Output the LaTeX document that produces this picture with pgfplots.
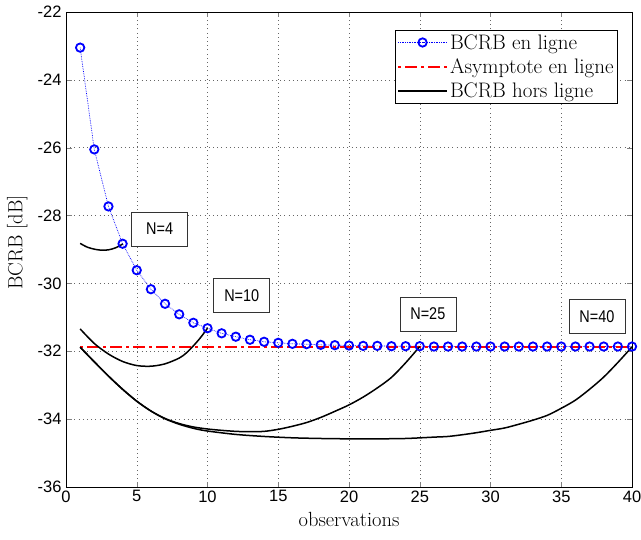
\documentclass[border=0pt]{standalone}
\usepackage{fontspec}
\usepackage{graphicx}
\usepackage{pgfplots}
\pgfplotsset{compat=1.18}
\newfontfamily\arialf{Liberation Sans}
\begin{document}
\begin{tikzpicture}
\begin{axis}[
  scale only axis,
  width=566pt, height=475pt,
  xmin=0, xmax=40, ymin=-36, ymax=-22,
  xtick={0,5,...,40}, ytick={-36,-34,...,-22},
  tick align=inside,
  major tick length=5.5pt,
  grid=major,
  major grid style={gray!80!black, line width=0.5pt, dash pattern=on 0.7pt off 3.5pt},
  axis line style={line width=0.8pt},
  /pgf/number format/assume math mode=true,
  ticklabel style={font=\arialf\fontsize{16.5}{18}\selectfont},
  yticklabel style={xshift=-1pt},
  xlabel={observations},
  ylabel={BCRB [dB]},
  label style={font=\fontsize{20.5}{23}\selectfont},
  xlabel style={at={(axis description cs:0.5,0)}, anchor=north, yshift=-22pt},
  ylabel style={at={(axis description cs:-0.062,0.515)}, anchor=south},
  legend style={at={(1,1)}, anchor=north east, xshift=-14pt, yshift=-18pt,
    font=\fontsize{21}{23.5}\selectfont, draw=black, line width=0.8pt,
    inner xsep=2pt, inner ysep=2pt, row sep=4pt},
  legend cell align=left,
  legend image code/.code={\draw[mark repeat=2,mark phase=2] plot coordinates {(0cm,0cm)(0.85cm,0cm)(1.7cm,0cm)};},
]
\addplot[blue, densely dotted, line width=0.7pt, mark=o, mark size=4.2pt, mark options={solid, line width=1.8pt}] coordinates {
(1,-23.05)(2,-26.05)(3,-27.73)(4,-28.83)(5,-29.61)(6,-30.17)(7,-30.60)(8,-30.91)(9,-31.16)(10,-31.32)
(11,-31.47)(12,-31.57)(13,-31.66)(14,-31.72)(15,-31.75)(16,-31.78)(17,-31.79)(18,-31.81)(19,-31.82)(20,-31.83)
(21,-31.84)(22,-31.84)(23,-31.85)(24,-31.85)(25,-31.85)(26,-31.86)(27,-31.86)(28,-31.86)(29,-31.86)(30,-31.86)
(31,-31.86)(32,-31.86)(33,-31.86)(34,-31.86)(35,-31.86)(36,-31.86)(37,-31.86)(38,-31.86)(39,-31.86)(40,-31.86)
};
\addlegendentry{BCRB en ligne}
\addplot[red, line width=2.5pt, dash pattern=on 12pt off 4pt on 3pt off 4pt, dash phase=-7pt] coordinates {(1,-31.87)(40,-31.87)};
\addlegendentry{Asymptote en ligne}
% N=4
\addplot[black, line width=1.5pt, smooth] coordinates {
(1,-28.82)(1.5,-28.93)(2,-28.99)(2.5,-29.02)(3,-29.01)(3.5,-28.95)(4,-28.84)
};
\addlegendentry{BCRB hors ligne}
% N=10
\addplot[black, line width=1.5pt, smooth, forget plot] coordinates {
(1,-31.34)(2,-31.77)(3,-32.08)(4,-32.30)(5,-32.42)(6,-32.44)(7,-32.37)(8,-32.20)(8.5,-32.05)(9,-31.84)(9.5,-31.60)(10,-31.32)
};
% N=25
\addplot[black, line width=1.5pt, smooth, forget plot] coordinates {
(1,-31.88)(2,-32.31)(3,-32.73)(4,-33.12)(5,-33.47)(6,-33.76)(7,-33.98)(8,-34.13)(9,-34.23)(10,-34.29)
(11,-34.33)(12,-34.36)(13,-34.37)(14,-34.36)(15,-34.30)(16,-34.21)(17,-34.10)(18,-33.95)(19,-33.77)(20,-33.58)
(21,-33.35)(22,-33.08)(23,-32.77)(24,-32.34)(25,-31.86)
};
% N=40
\addplot[black, line width=1.5pt, smooth, forget plot] coordinates {
(1,-31.88)(2,-32.31)(3,-32.73)(4,-33.12)(5,-33.47)(6,-33.76)(7,-33.99)(8,-34.15)(9,-34.27)(10,-34.35)
(12,-34.45)(14,-34.51)(16,-34.55)(18,-34.57)(20,-34.58)(22,-34.58)(24,-34.57)(26,-34.53)(27,-34.51)(28,-34.46)
(29,-34.40)(30,-34.33)(31,-34.26)(32,-34.15)(33,-34.03)(34,-33.89)(35,-33.68)(36,-33.44)(37,-33.12)(38,-32.76)
(39,-32.33)(40,-31.87)
};
\tikzset{nbox/.style={draw=black!80, line width=0.6pt, fill=white, font=\arialf\fontsize{17}{19}\selectfont, minimum width=56pt, minimum height=34pt, inner sep=2pt}}
\node[nbox] at (axis cs:6.62,-28.39) {\scalebox{0.85}[1]{N=4}};
\node[nbox] at (axis cs:12.42,-30.35) {\scalebox{0.85}[1]{N=10}};
\node[nbox] at (axis cs:25.57,-30.90) {\scalebox{0.85}[1]{N=25}};
\node[nbox] at (axis cs:37.52,-30.98) {\scalebox{0.85}[1]{N=40}};
\end{axis}
\pgfresetboundingbox
\path[use as bounding box] ([shift={(-66pt,-52pt)}]current axis.south west) rectangle ([shift={(9pt,12pt)}]current axis.north east);
\end{tikzpicture}
\end{document}
